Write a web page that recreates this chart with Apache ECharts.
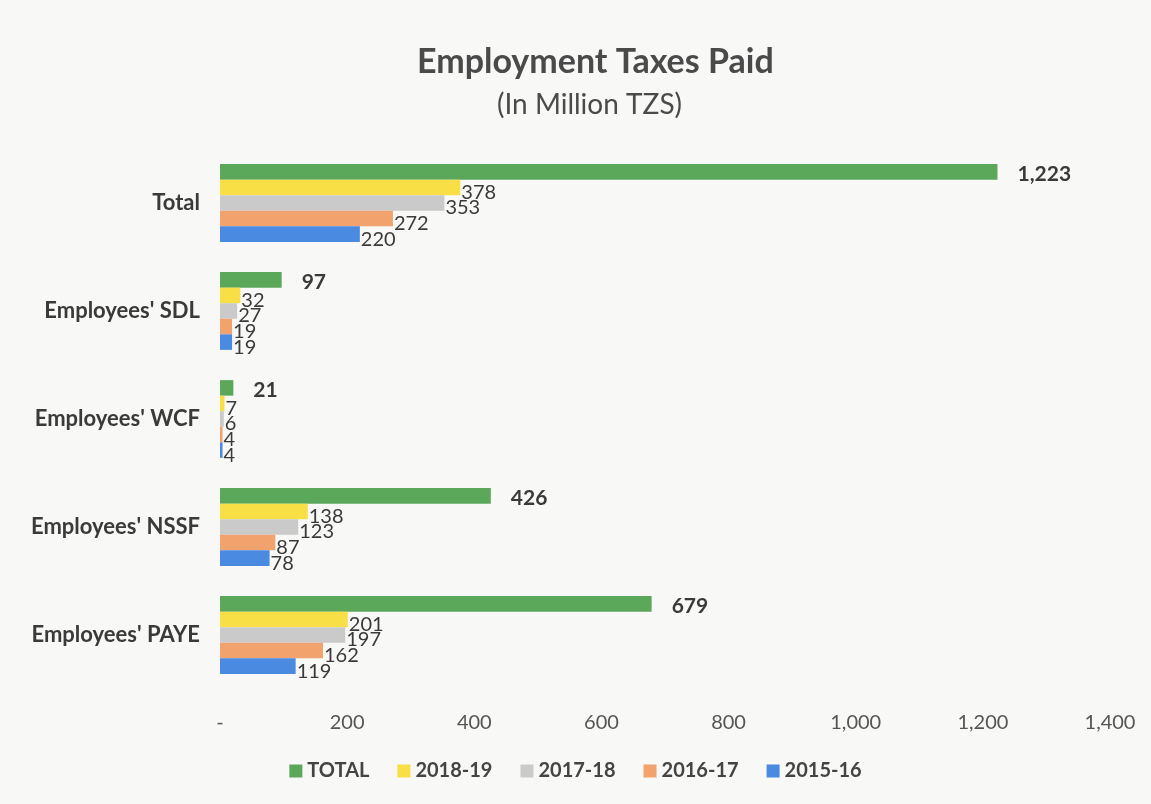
<!DOCTYPE html>
<html><head><meta charset="utf-8">
<script src="https://cdn.jsdelivr.net/npm/echarts@6/dist/echarts.min.js"></script>
<style>html,body{margin:0;padding:0;background:#f8f8f6;}#c{width:1151px;height:804px;}</style>
</head><body><div id="c"></div>
<script>
const categories = ["Employees' PAYE", "Employees' NSSF", "Employees' WCF", "Employees' SDL", "Total"];
const seriesNames = ["TOTAL", "2018-19", "2017-18", "2016-17", "2015-16"];
const total   = [679, 426, 21, 97, 1223];
const y201819 = [201, 138, 7, 32, 378];
const y201718 = [197, 123, 6, 27, 353];
const y201617 = [162, 87, 4, 19, 272];
const y201516 = [119, 78, 4, 19, 220];
const colors = {"TOTAL":"#5ba85b","2018-19":"#f7df45","2017-18":"#cacaca","2016-17":"#f2a26c","2015-16":"#4a8ae0"};
const values = {"TOTAL":total,"2018-19":y201819,"2017-18":y201718,"2016-17":y201617,"2015-16":y201516};

const fmt = v => v === 0 ? '-' : v.toLocaleString('en-US');
const font = 'Lato, "Open Sans", sans-serif';
const series = seriesNames.map(n => ({
  name: n, type: 'bar', data: values[n],
  barGap: '0%', barCategoryGap: '28%',
  itemStyle: {color: colors[n]},
  label: {show: true, position: 'right', formatter: p => fmt(p.value),
    fontFamily: font, fontSize: n === 'TOTAL' ? 21 : 20,
    fontWeight: n === 'TOTAL' ? 'bold' : 'normal',
    color: '#3a3a3a', distance: n === 'TOTAL' ? 20 : 1, offset: n === 'TOTAL' ? [0,2] : [0,5]}
}));

const chart = echarts.init(document.getElementById('c'), null, {renderer:'canvas'});
chart.setOption({
  backgroundColor: '#f8f8f6',
  animation: false,
  title: [{text: 'Employment Taxes Paid', left: 412, top: 40,
    textStyle: {fontFamily: font, fontSize: 34, fontWeight: 'bold', color: '#4a4a4a'}},
    {text: '(In Million TZS)', left: 492, top: 86,
    textStyle: {fontFamily: font, fontSize: 28, fontWeight: 'normal', color: '#4a4a4a'}}],
  legend: {data: seriesNames, bottom: 18, left: 'center', itemWidth: 13, itemHeight: 13, itemGap: 28,
    icon: 'rect', textStyle: {fontFamily: font, fontSize: 20, fontWeight: 'bold', color: '#444'}},
  grid: {left: 220, right: 41, top: 149, bottom: 115, containLabel: false},
  xAxis: {type: 'value', min: 0, max: 1400, interval: 200,
    axisLine: {show: false}, axisTick: {show: false}, splitLine: {show: false},
    axisLabel: {formatter: fmt, fontFamily: font, fontSize: 20, color: '#555', margin: 24}},
  yAxis: {type: 'category', data: categories,
    axisLine: {show: false}, axisTick: {show: false},
    axisLabel: {fontFamily: font, fontSize: 22, fontWeight: 'bold', color: '#3a3a3a', margin: 20}},
  series: series
});
</script></body></html>
